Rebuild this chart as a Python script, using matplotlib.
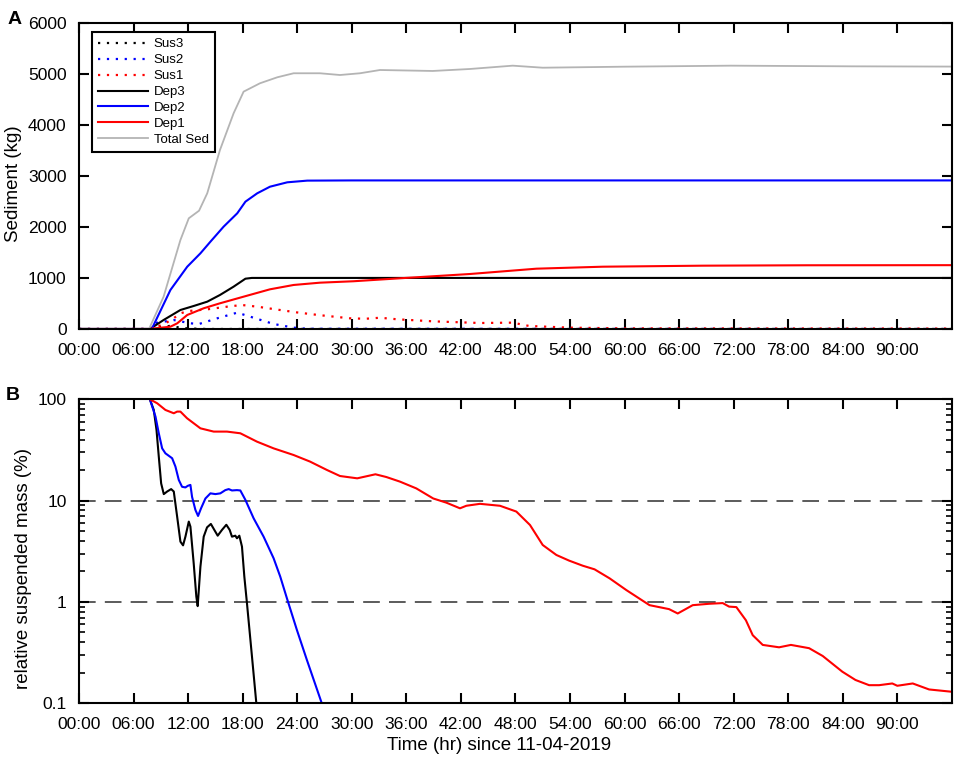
import numpy as np
import matplotlib.pyplot as plt
from matplotlib.ticker import FixedLocator, LogLocator, NullFormatter, NullLocator

plt.rcParams['font.family'] = ['Liberation Sans', 'DejaVu Sans']

# ---- Panel A: sediment mass (kg) vs hours ----
t_total = [0, 7.7, 9.3, 11.15, 12.07, 13.2, 14.1, 15.5, 17.0, 18.1, 19.9, 21.8, 23.6,
           26.5, 28.7, 30.9, 33.1, 38.9, 43.0, 47.7, 51.0, 60, 71.7, 85, 96]
total_sed = [0, 0, 633, 1743, 2168, 2317, 2658, 3506, 4225, 4649, 4813, 4930, 5009,
             5009, 4975, 5009, 5073, 5054, 5093, 5158, 5118, 5138, 5158, 5145, 5140]

t_dep2 = [0, 8.0, 10.05, 11.9, 13.35, 14.45, 15.9, 17.4, 18.3, 19.6, 21.0, 22.9, 25.1, 30, 96]
dep2 = [0, 0, 764, 1220, 1482, 1710, 2004, 2266, 2494, 2658, 2787, 2873, 2906, 2910, 2910]

t_dep3 = [0, 7.8, 9.3, 11.15, 12.6, 14.1, 15.5, 17.0, 18.3, 19.0, 96]
dep3 = [0, 0, 176, 372, 450, 535, 666, 829, 985, 1000, 1000]

t_dep1 = [0, 7.7, 10.05, 10.8, 11.9, 13.7, 15.5, 18.1, 21.0, 23.6, 26.5, 30.2, 35.3,
          43.0, 50.3, 57.6, 68.6, 80, 96]
dep1 = [0, 0, 45, 111, 274, 405, 503, 633, 777, 862, 907, 935, 993,
        1077, 1181, 1220, 1240, 1248, 1250]

t_sus1 = [0, 7.8, 8.4, 9.5, 10.4, 11.15, 12.07, 14.1, 16.3, 17.9, 19.6, 22.1, 23.9,
          26.5, 29.8, 31.5, 33.1, 35.0, 38.9, 44.1, 47.7, 49.5, 53.9, 60, 96]
sus1 = [0, 0, 30, 111, 209, 307, 352, 385, 437, 470, 437, 372, 326,
        270, 209, 200, 220, 190, 150, 117, 124, 59, 26, 12, 8]

t_sus2 = [0, 7.8, 8.2, 8.9, 10.4, 12.25, 13.2, 15.2, 17.4, 19.4, 21.4, 23.6, 25, 96]
sus2 = [0, 0, 111, 130, 176, 111, 98, 209, 320, 209, 98, 26, 5, 0]

t_sus3 = [0, 7.8, 9.0, 10.0, 11.0, 12.0, 14.0, 96]
sus3 = [0, 0, 40, 60, 30, 10, 0, 0]

# ---- Panel B: relative suspended mass (%) ----
t_rel3 = [7.79, 8.22, 8.52, 8.77, 9.03, 9.32, 9.69, 10.13, 10.42, 10.79, 11.15, 11.44,
          11.7, 12.07, 12.25, 12.61, 12.9, 13.05, 13.35, 13.71, 14.08, 14.5, 14.88,
          15.25, 15.72, 16.2, 16.57, 16.82, 17.19, 17.37, 17.63, 17.92, 18.18, 18.47,
          19.02, 19.5, 19.9]
rel3 = [100, 78.5, 49.8, 27.2, 14.8, 11.6, 12.3, 13.0, 12.3, 6.95, 3.94, 3.62,
        4.41, 6.21, 5.54, 2.41, 1.13, 0.91, 2.23, 4.41, 5.45, 5.89, 5.14,
        4.51, 5.14, 5.78, 5.14, 4.41, 4.51, 4.25, 4.51, 3.52, 1.78, 0.97,
        0.29, 0.1, 0.05]

t_rel2 = [7.79, 8.41, 8.77, 9.14, 9.5, 10.24, 10.6, 10.97, 11.33, 11.7, 11.96, 12.25,
          12.43, 12.8, 13.09, 13.42, 13.9, 14.45, 15.0, 15.54, 16.09, 16.46, 16.82,
          17.37, 17.74, 18.29, 19.2, 20.3, 21.4, 22.13, 22.86, 23.96, 25.06, 26.7, 27.2]
rel2 = [100, 67.4, 46.2, 32.8, 29.3, 26.2, 21.7, 16.0, 13.7, 13.5, 14.0, 14.3,
        10.9, 8.09, 7.06, 8.4, 10.5, 11.8, 11.6, 11.8, 12.7, 13.0, 12.6,
        12.7, 12.6, 10.2, 6.7, 4.41, 2.7, 1.78, 1.09, 0.53, 0.268, 0.1, 0.08]

t_rel1 = [7.79, 8.59, 9.5, 10.42, 10.79, 11.15, 11.88, 13.35, 14.81, 16.27, 17.74,
          19.57, 21.4, 23.6, 25.4, 27.25, 28.7, 30.6, 32.6, 33.8, 35.3, 37.1, 38.96,
          40.4, 41.9, 42.6, 44.1, 46.3, 48.1, 49.6, 51.0, 52.5, 53.9, 55.4, 56.7,
          58.36, 60.2, 62.75, 64.9, 65.85, 66.4, 67.5, 69.3, 70.8, 71.5, 72.3, 73.35,
          74.1, 75.2, 77.0, 78.3, 80.3, 81.8, 83.96, 85.4, 86.9, 88.0, 89.45, 90.0,
          91.7, 93.5, 96.0]
rel1 = [100, 91.4, 78.5, 72.8, 75.6, 75.6, 65, 51.7, 48, 48, 46.2,
        38.2, 32.8, 28.2, 24.3, 20.1, 17.5, 16.6, 18.2, 17.1, 15.4, 13.2, 10.5,
        9.55, 8.4, 8.9, 9.3, 8.9, 7.8, 5.75, 3.65, 2.91, 2.56, 2.28, 2.1,
        1.71, 1.31, 0.93, 0.85, 0.77, 0.82, 0.93, 0.96, 0.975, 0.90, 0.89, 0.66,
        0.47, 0.377, 0.357, 0.377, 0.35, 0.293, 0.205, 0.17, 0.151, 0.151, 0.157, 0.149,
        0.157, 0.137, 0.13]

hour_ticks = list(range(0, 91, 6))
hour_labels = ['%02d:00' % h for h in hour_ticks]

fig = plt.figure(figsize=(9.57, 7.61), dpi=100)
axA = fig.add_axes([0.0826, 0.5677, 0.912, 0.4025])
axB = fig.add_axes([0.0826, 0.0758, 0.912, 0.3995])

dot = (0, (1, 3))
axA.plot(t_sus3, sus3, color='black', lw=1.6, linestyle=dot, label='Sus3')
axA.plot(t_sus2, sus2, color='blue', lw=1.6, linestyle=dot, label='Sus2')
axA.plot(t_sus1, sus1, color='red', lw=1.6, linestyle=dot, label='Sus1')
axA.plot(t_dep3, dep3, color='black', lw=1.5, label='Dep3')
axA.plot(t_dep2, dep2, color='blue', lw=1.5, label='Dep2')
axA.plot(t_dep1, dep1, color='red', lw=1.5, label='Dep1')
axA.plot(t_total, total_sed, color='#b4b4b4', lw=1.3, label='Total Sed')
axA.set_ylim(0, 6000)
axA.set_ylabel('Sediment (kg)', fontsize=13.5)
axA.yaxis.set_label_coords(-0.0656, 0.475)
leg = axA.legend(loc='upper left', bbox_to_anchor=(0.0145, 0.969), borderaxespad=0,
                 fontsize=9.5, handlelength=3.8, handletextpad=0.45, labelspacing=0.28,
                 fancybox=False, framealpha=1, edgecolor='black', borderpad=0.45)
leg.get_frame().set_linewidth(1.5)

axB.plot(t_rel3, rel3, color='black', lw=1.5)
axB.plot(t_rel2, rel2, color='blue', lw=1.5)
axB.plot(t_rel1, rel1, color='red', lw=1.5)
for yv in (10, 1):
    axB.axhline(yv, color='#404040', lw=1.2, linestyle=(0, (10, 5.5)), zorder=0)
axB.set_yscale('log')
axB.set_ylim(0.1, 100)
axB.yaxis.set_major_locator(FixedLocator([0.1, 1, 10, 100]))
axB.set_yticklabels(['0.1', '1', '10', '100'])
axB.yaxis.set_minor_locator(LogLocator(base=10, subs=np.arange(2, 10)))
axB.yaxis.set_minor_formatter(NullFormatter())
axB.set_ylabel('relative suspended mass (%)', fontsize=13.5)
axB.yaxis.set_label_coords(-0.0542, 0.445)
axB.set_xlabel('Time (hr) since 11-04-2019', fontsize=13.5)
axB.xaxis.set_label_coords(0.4817, -0.111)

for ax in (axA, axB):
    ax.set_xlim(0, 96)
    ax.set_xticks(hour_ticks)
    ax.set_xticklabels(hour_labels)
    ax.xaxis.set_minor_locator(NullLocator())
    ax.tick_params(which='major', direction='in', length=7, width=1.5,
                   top=True, right=True, labelsize=12.6)
    ax.tick_params(axis='x', which='major', pad=10)
    ax.tick_params(axis='y', which='major', pad=9)
    ax.tick_params(which='minor', direction='in', length=4, width=1.2,
                   top=False, right=True)
    for s in ax.spines.values():
        s.set_linewidth(1.5)

fig.text(0.008, 0.985, 'A', fontsize=14, fontweight='bold', va='top')
fig.text(0.006, 0.492, 'B', fontsize=14, fontweight='bold', va='top')

fig.savefig('out.png', dpi=100)
